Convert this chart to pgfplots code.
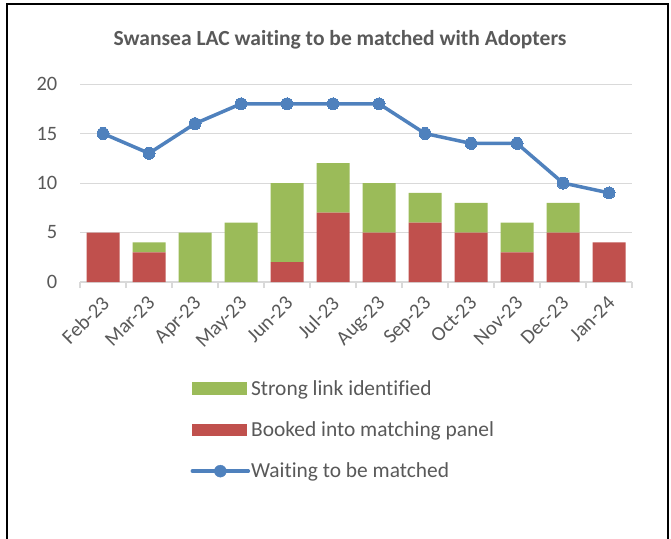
\documentclass[border=0pt]{standalone}
\usepackage{pgfplots}
\pgfplotsset{compat=1.18}
\usepackage{fontspec}
\setmainfont{Carlito}[Ligatures={NoCommon}]
\definecolor{cgreen}{HTML}{9BBB59}
\definecolor{cred}{HTML}{C0504D}
\definecolor{cblue}{HTML}{4F81BD}
\definecolor{ctext}{HTML}{595959}
\definecolor{cgrid}{HTML}{D9D9D9}
\pgfplotsset{
  common/.style={
    at={(80bp,-282bp)}, anchor=south west,
    scale only axis, width=552bp, height=198bp,
    xmin=-0.5, xmax=11.5, ymin=0, ymax=20,
    clip=false,
  }
}
\begin{document}
\begin{tikzpicture}
\useasboundingbox (0bp,0bp) rectangle (671bp,-539bp);
\fill[white] (0bp,0bp) rectangle (671bp,-539bp);
\draw[line width=2bp,black] (7bp,-539bp) -- (7bp,-4bp) -- (668bp,-4bp) -- (668bp,-539bp);
\node[font=\fontsize{21.6}{24}\selectfont\bfseries, text=ctext] at (340bp,-40bp) {Swansea LAC waiting to be matched with Adopters};
\begin{axis}[
  common,
  ytick={0,5,10,15,20},
  xtick={0,...,11},
  xticklabels={Feb-23,Mar-23,Apr-23,May-23,Jun-23,Jul-23,Aug-23,Sep-23,Oct-23,Nov-23,Dec-23,Jan-24},
  minor xtick={-0.5,0.5,...,11.5},
  major x tick style={draw=none},
  minor tick length=6bp,
  tick align=outside,
  minor x tick style={cgrid, line width=1.2bp},
  ymajorgrids, grid style={cgrid, line width=1bp},
  axis x line*=bottom, axis y line*=left,
  x axis line style={cgrid, line width=1.2bp, -},
  y axis line style={draw=none},
  ytick style={draw=none},
  /pgf/number format/assume math mode=true,
  tick label style={font=\fontsize{20.5}{22}\selectfont, text=ctext},
  yticklabel style={xshift=-15bp},
  xticklabel style={rotate=45, anchor=north east, inner sep=0pt, xshift=-7.8bp, yshift=-4.2bp},
  ybar stacked, bar width=33bp,
  legend cell align=left,
  legend style={at={(0.2,-0.49)}, anchor=north west, draw=none, fill=none,
    font=\fontsize{21.5}{23}\selectfont, text=ctext,
    row sep=23bp, inner sep=0pt,
    nodes={inner sep=1bp, anchor=west}},
]
\addplot[fill=cred, draw=none, forget plot] coordinates {(0,5) (1,3) (2,0) (3,0) (4,2) (5,7) (6,5) (7,6) (8,5) (9,3) (10,5) (11,4)};
\addplot[fill=cgreen, draw=none, forget plot] coordinates {(0,0) (1,1) (2,5) (3,6) (4,8) (5,5) (6,5) (7,3) (8,3) (9,3) (10,3) (11,0)};
\addlegendimage{legend image code/.code={\fill[cgreen] (0bp,-5.8bp) rectangle (54bp,5.8bp);}}
\addlegendentry{Strong link identified}
\addlegendimage{legend image code/.code={\fill[cred] (0bp,-5.8bp) rectangle (54bp,5.8bp);}}
\addlegendentry{Booked into matching panel}
\addlegendimage{legend image code/.code={\draw[cblue, line width=3.5bp, line cap=round] (0bp,0bp) -- (56bp,0bp); \fill[cblue] (28bp,0bp) circle (6bp);}}
\addlegendentry{Waiting to be matched}
\end{axis}
\begin{axis}[common, hide axis]
\addplot[sharp plot, cblue, line width=3.5bp, mark=*, mark size=6bp, mark options={fill=cblue, draw=cblue, line width=0pt}]
  coordinates {(0,15) (1,13) (2,16) (3,18) (4,18) (5,18) (6,18) (7,15) (8,14) (9,14) (10,10) (11,9)};
\end{axis}
\end{tikzpicture}
\end{document}
